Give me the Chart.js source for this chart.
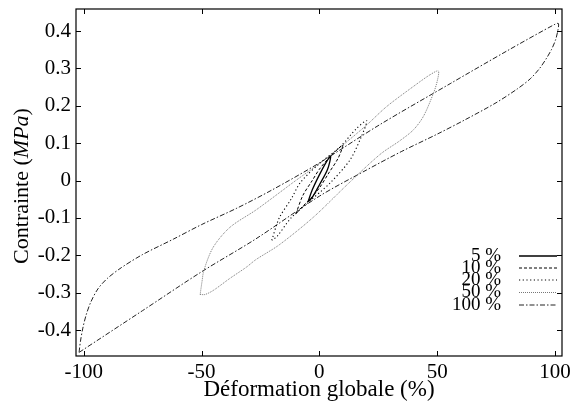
<!DOCTYPE html>
<html>
<head>
<meta charset="utf-8">
<script src="https://cdn.jsdelivr.net/npm/chart.js@4/dist/chart.umd.min.js"></script>
<style>
  body { margin: 0; background: #fff; }
  #wrap { width: 577px; height: 407px; }
</style>
</head>
<body>
<div id="wrap"><canvas id="chart" width="577" height="407"></canvas></div>
<script>
// series names (legend)
const seriesLabels = ['5 %', '10 %', '20 %', '50 %', '100 %'];

// each loop: strain (%) and stress (MPa), going round the loop
const strain5 = [-4.8, -3, 0, 3, 4.8, 3.5, 0, -3, -4.8];
const stress5 = [-0.057, -0.025, 0.015, 0.05, 0.065, 0.03, -0.012, -0.045, -0.057];

const strain10 = [-10, -7, -3, 0, 4, 8, 10, 8, 4, 0, -4, -8, -10];
const stress10 = [-0.09, -0.04, 0.0, 0.03, 0.06, 0.085, 0.095, 0.06, 0.02, -0.02, -0.05, -0.075, -0.09];

const strain20 = [-20.2, -17, -12, -8, 0, 8.8, 15.9, 20.1, 18, 13, 4.5, -5, -12, -18, -20.2];
const stress20 = [-0.16, -0.1, -0.05, -0.005, 0.045, 0.09, 0.14, 0.16, 0.12, 0.055, -0.007, -0.06, -0.1, -0.15, -0.16];

const strain50 = [-50.6, -49.8, -49, -45, -37.9, -26.7, -10, 0, 10, 20, 28.6, 40, 47, 50.5,
                  50, 48.4, 44.2, 40, 34.3, 25.8, 12, -2.5, -17, -27, -31, -38, -45, -48.5, -50.6];
const stress50 = [-0.305, -0.27, -0.24, -0.178, -0.125, -0.078, 0.0, 0.045, 0.095, 0.148, 0.198, 0.252, 0.283, 0.293,
                  0.265, 0.233, 0.172, 0.136, 0.107, 0.07, -0.01, -0.098, -0.172, -0.212, -0.232, -0.262, -0.294, -0.305, -0.305];

const strain100 = [-102, -101.4, -100.4, -99, -97, -94, -90, -84, -75, -62, -50, -35, -20, 0, 25.8, 55.5, 80, 100, 101.5,
                   101.2, 100.2, 98.5, 96.5, 93.5, 89.5, 84, 75, 62, 50, 35, 20, 0, -26.9, -50.2, -75, -102];
const stress100 = [-0.46, -0.43, -0.395, -0.36, -0.325, -0.29, -0.262, -0.233, -0.198, -0.157, -0.118, -0.074, -0.025, 0.047, 0.15, 0.259, 0.348, 0.418, 0.42,
                   0.40, 0.375, 0.35, 0.328, 0.3, 0.272, 0.245, 0.208, 0.163, 0.124, 0.078, 0.028, -0.042, -0.156, -0.245, -0.348, -0.46];

// axis ticks
const xTicks = [-100, -50, 0, 50, 100];
const yTicks = [-0.4, -0.3, -0.2, -0.1, 0, 0.1, 0.2, 0.3, 0.4];
const yTickLabels = ['-0.4', '-0.3', '-0.2', '-0.1', '0', '0.1', '0.2', '0.3', '0.4'];

const FONT = '"Liberation Serif", "DejaVu Serif", serif';

function pts(xs, ys) {
  return xs.map((x, i) => ({x: x, y: ys[i]}));
}

const styles = [
  {color: '#000', width: 1.3, dash: []},
  {color: '#000', width: 1, dash: [3, 2]},
  {color: '#000', width: 1.1, dash: [1.2, 2.5]},
  {color: '#777', width: 1, dash: [1, 1]},
  {color: '#222', width: 1, dash: [5, 2, 1.5, 2]}
];

const loops = [[strain5, stress5], [strain10, stress10], [strain20, stress20], [strain50, stress50], [strain100, stress100]];

const datasets = loops.map((l, i) => ({
  label: seriesLabels[i],
  data: pts(l[0], l[1]),
  showLine: true,
  borderColor: styles[i].color,
  borderWidth: styles[i].width,
  borderDash: styles[i].dash,
  pointRadius: 0,
  tension: 0.3,
  fill: false
}));

// frame, inward ticks, y title, legend
const decorations = {
  id: 'decorations',
  afterDraw(chart) {
    const ctx = chart.ctx;
    const a = chart.chartArea;
    const xs = chart.scales.x, ys = chart.scales.y;
    ctx.save();
    ctx.strokeStyle = '#000';
    ctx.lineWidth = 1.2;
    ctx.setLineDash([]);
    ctx.strokeRect(a.left, a.top, a.right - a.left, a.bottom - a.top);
    ctx.lineWidth = 1;
    ctx.beginPath();
    xTicks.forEach(v => {
      const px = Math.round(xs.getPixelForValue(v)) + 0.5;
      ctx.moveTo(px, a.bottom); ctx.lineTo(px, a.bottom - 5);
      ctx.moveTo(px, a.top); ctx.lineTo(px, a.top + 5);
    });
    yTicks.forEach(v => {
      const py = Math.round(ys.getPixelForValue(v)) + 0.5;
      ctx.moveTo(a.left, py); ctx.lineTo(a.left + 5, py);
      ctx.moveTo(a.right, py); ctx.lineTo(a.right - 5, py);
    });
    ctx.stroke();

    // y title with italic unit
    ctx.fillStyle = '#000';
    ctx.translate(22, 186);
    ctx.rotate(-Math.PI / 2);
    ctx.textBaseline = 'middle';
    const parts = [['Contrainte (', 'normal'], ['MPa', 'italic'], [')', 'normal']];
    let total = 0;
    parts.forEach(p => { ctx.font = p[1] + ' 22px ' + FONT; total += ctx.measureText(p[0]).width; });
    let x = -total / 2;
    parts.forEach(p => {
      ctx.font = p[1] + ' 22px ' + FONT;
      ctx.textAlign = 'left';
      ctx.fillText(p[0], x, 0);
      x += ctx.measureText(p[0]).width;
    });
    ctx.restore();

    // legend
    ctx.save();
    ctx.font = '19px ' + FONT;
    ctx.textAlign = 'right';
    ctx.textBaseline = 'middle';
    ctx.fillStyle = '#000';
    const rows = [256, 268, 280, 292.5, 305];
    chart.data.datasets.forEach((d, i) => {
      ctx.fillText(d.label, 501, rows[i]);
      ctx.strokeStyle = d.borderColor;
      ctx.lineWidth = d.borderWidth;
      ctx.setLineDash(d.borderDash);
      ctx.beginPath();
      ctx.moveTo(519, rows[i]);
      ctx.lineTo(557, rows[i]);
      ctx.stroke();
    });
    ctx.restore();
  }
};

new Chart(document.getElementById('chart'), {
  type: 'scatter',
  data: {datasets: datasets},
  options: {
    responsive: false,
    animation: false,
    layout: {padding: {left: 0, right: 15, top: 9, bottom: 0}},
    plugins: {legend: {display: false}, tooltip: {enabled: false}},
    scales: {
      x: {
        type: 'linear',
        min: -103.3,
        max: 103,
        afterFit(s) { s.height = 51; s.paddingLeft = 0; s.paddingRight = 0; },
        afterBuildTicks(s) { s.ticks = xTicks.map(v => ({value: v})); },
        grid: {display: false, drawTicks: false},
        border: {display: false},
        ticks: {padding: 4, color: '#000', font: {family: FONT, size: 21}, maxRotation: 0},
        title: {display: true, text: 'Déformation globale (%)', color: '#000', font: {family: FONT, size: 23}, padding: {top: 0, bottom: 3}}
      },
      y: {
        type: 'linear',
        min: -0.4696,
        max: 0.4589,
        afterFit(s) { s.width = 76; s.paddingTop = 0; s.paddingBottom = 0; },
        afterBuildTicks(s) { s.ticks = yTicks.map(v => ({value: v})); },
        grid: {display: false, drawTicks: false},
        border: {display: false},
        ticks: {
          padding: 5, color: '#000', font: {family: FONT, size: 21},
          callback: (v) => yTickLabels[yTicks.indexOf(v)] ?? ''
        }
      }
    }
  },
  plugins: [decorations]
});
</script>
</body>
</html>
